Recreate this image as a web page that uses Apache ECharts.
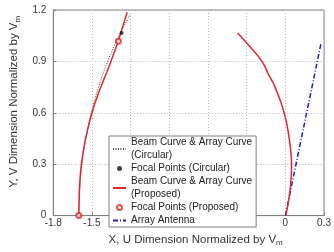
<!DOCTYPE html>
<html>
<head>
<meta charset="utf-8">
<script src="https://cdn.jsdelivr.net/npm/echarts@6/dist/echarts.min.js"></script>
<style>
  html, body { margin: 0; padding: 0; background: #fff; }
  #chart { width: 334px; height: 252px; }
</style>
</head>
<body>
<div id="chart"></div>
<script>
// beam curve & array curve, circular (black dotted)
var circBeamX = [-1.600, -1.594, -1.577, -1.547, -1.505, -1.449, -1.378, -1.290, -1.204];
var circBeamY = [0, 0.15, 0.30, 0.45, 0.60, 0.75, 0.90, 1.05, 1.172];
// focal points, circular
var circFocalX = [-1.600, -1.271];
var circFocalY = [0, 1.066];
// beam curve (proposed), left red curve
var propBeamX = [-1.602, -1.600, -1.594, -1.582, -1.562, -1.534, -1.500, -1.457, -1.405, -1.353, -1.305, -1.263, -1.227];
var propBeamY = [0, 0.10, 0.20, 0.30, 0.40, 0.50, 0.60, 0.70, 0.80, 0.90, 1.00, 1.10, 1.187];
// array curve (proposed), right red curve
var propArrayX = [-0.370, -0.300, -0.182, -0.131, -0.080, -0.030, -0.008, 0.010, 0.030, 0.045, 0.048, 0.045, 0.030, 0.004];
var propArrayY = [1.066, 1.007, 0.900, 0.824, 0.750, 0.650, 0.595, 0.540, 0.450, 0.350, 0.296, 0.220, 0.113, 0];
// focal points, proposed
var propFocalX = [-1.602, -1.295];
var propFocalY = [0, 1.017];
// array antenna (blue dash-dot)
var antennaX = [0.0, 0.275];
var antennaY = [0.0, 1.0];

var xTicks = { min: -1.8, max: 0.3, interval: 0.3 };
var yTicks = { min: 0, max: 1.2, interval: 0.3 };

var names = [
  'Beam Curve & Array Curve\n(Circular)',
  'Focal Points (Circular)',
  'Beam Curve & Array Curve\n(Proposed)',
  'Focal Points (Proposed)',
  'Array Antenna'
];

function pairs(xs, ys) {
  return xs.map(function (x, i) { return [x, ys[i]]; });
}

var gray = '#7f7f7f';
var red = '#e4262c';
var noDot = { opacity: 0 };

var chart = echarts.init(document.getElementById('chart'), null, { renderer: 'canvas' });

var option = {
  animation: false,
  grid: {
    left: 36, right: 8, top: 10, bottom: 24,
    show: true, borderColor: gray, borderWidth: 1
  },
  xAxis: {
    type: 'value',
    min: xTicks.min, max: xTicks.max, interval: xTicks.interval,
    name: 'X, U Dimension Normalized by V{sub|m}',
    nameLocation: 'middle',
    nameGap: 12,
    nameTextStyle: {
      fontFamily: 'Liberation Sans', fontSize: 11.5, color: '#333',
      padding: [0, 0, 0, 14],
      rich: { sub: { fontFamily: 'Liberation Sans', fontSize: 8, color: '#333', padding: [7, 0, 0, 0] } }
    },
    axisLine: { show: true, onZero: false, lineStyle: { color: gray } },
    axisTick: { show: true, inside: true, length: 3, lineStyle: { color: gray } },
    axisLabel: {
      fontFamily: 'Liberation Sans', fontSize: 10, color: '#333', margin: 3,
      formatter: function (v) { return String(Math.round(v * 10) / 10); }
    },
    splitLine: { show: true, lineStyle: { color: '#b5b5b5', type: [1, 2] } }
  },
  yAxis: {
    type: 'value',
    min: yTicks.min, max: yTicks.max, interval: yTicks.interval,
    name: 'Y, V Dimension Normalized by V{sub|m}',
    nameLocation: 'middle',
    nameGap: 27,
    nameTextStyle: {
      fontFamily: 'Liberation Sans', fontSize: 11.5, color: '#333',
      padding: [0, 0, 0, 22],
      rich: { sub: { fontFamily: 'Liberation Sans', fontSize: 8, color: '#333', padding: [7, 0, 0, 0] } }
    },
    axisLine: { show: true, onZero: false, lineStyle: { color: gray } },
    axisTick: { show: true, inside: true, length: 3, lineStyle: { color: gray } },
    axisLabel: {
      fontFamily: 'Liberation Sans', fontSize: 10, color: '#333', margin: 7,
      formatter: function (v) { return String(Math.round(v * 10) / 10); }
    },
    splitLine: { show: true, lineStyle: { color: '#b5b5b5', type: [1, 2] } }
  },
  legend: {
    orient: 'vertical',
    left: 109, top: 136,
    padding: [0, 4, 0, 3],
    itemGap: 0,
    itemWidth: 13,
    itemHeight: 5,
    backgroundColor: '#fff',
    borderColor: gray,
    borderWidth: 1,
    textStyle: { fontFamily: 'Liberation Sans', fontSize: 10, color: '#222', lineHeight: 13 },
    data: [
      { name: names[0], itemStyle: noDot },
      { name: names[1] },
      { name: names[2], itemStyle: noDot },
      { name: names[3] },
      { name: names[4], itemStyle: noDot }
    ]
  },
  series: [
    {
      name: names[0], type: 'line', data: pairs(circBeamX, circBeamY),
      symbol: 'none', smooth: true, z: 3,
      lineStyle: { color: '#444', width: 1, type: [1, 1.5] },
      itemStyle: { color: '#444' }
    },
    {
      name: names[1], type: 'scatter', data: pairs(circFocalX, circFocalY),
      symbol: 'circle', symbolSize: 4, z: 5,
      itemStyle: { color: '#111' }
    },
    {
      name: names[2], type: 'line', data: pairs(propBeamX, propBeamY),
      symbol: 'none', smooth: true, z: 4,
      lineStyle: { color: red, width: 1.5 },
      itemStyle: { color: red }
    },
    {
      name: names[2], type: 'line', data: pairs(propArrayX, propArrayY),
      symbol: 'none', smooth: true, z: 4,
      lineStyle: { color: red, width: 1.5 },
      itemStyle: { color: red }
    },
    {
      name: names[3], type: 'scatter', data: pairs(propFocalX, propFocalY),
      symbol: 'emptyCircle', symbolSize: 5, z: 6,
      itemStyle: { color: red, borderColor: red, borderWidth: 1.2 }
    },
    {
      name: names[4], type: 'line', data: pairs(antennaX, antennaY),
      symbol: 'none', z: 3,
      lineStyle: { color: '#1a1ad8', width: 1.5, type: [5, 2, 1, 2] },
      itemStyle: { color: '#1a1ad8' }
    }
  ]
};

chart.setOption(option);
window.addEventListener('resize', chart.resize);
</script>
</body>
</html>
